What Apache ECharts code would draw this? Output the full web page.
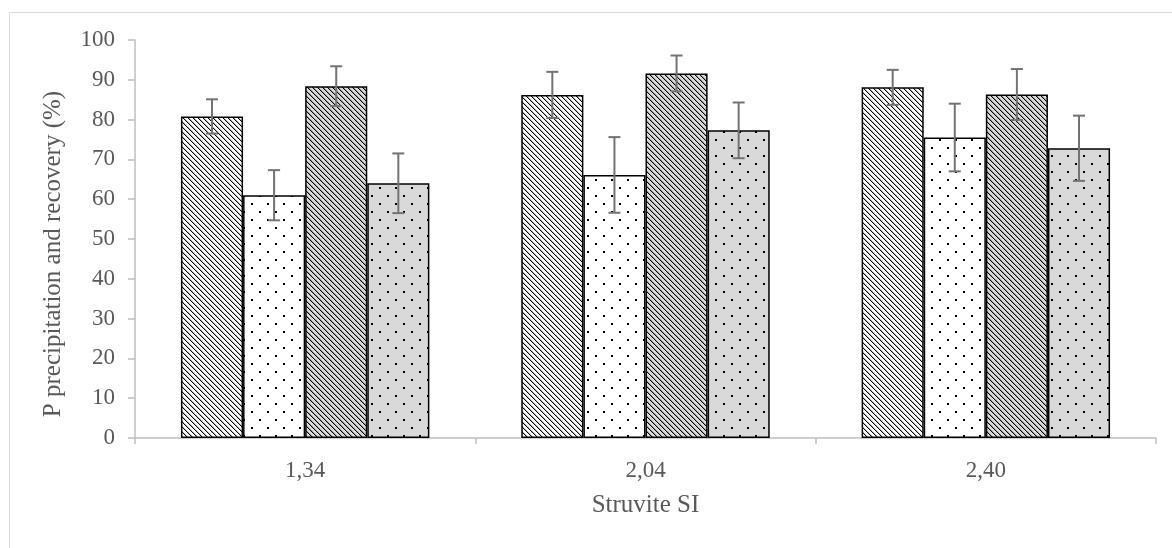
<!DOCTYPE html>
<html>
<head>
<meta charset="utf-8">
<script src="https://cdn.jsdelivr.net/npm/echarts@6/dist/echarts.min.js"></script>
<style>html,body{margin:0;padding:0;background:#fff;}#c{width:1172px;height:548px;}</style>
</head>
<body>
<div id="c"></div>
<script>
const categories = ['1,34', '2,04', '2,40'];
const s1 = [80.8, 86.2, 88.1];
const e1 = [4.3, 5.8, 4.4];
const s2 = [61.0, 66.1, 75.5];
const e2 = [6.3, 9.5, 8.5];
const s3 = [88.4, 91.6, 86.3];
const e3 = [5.0, 4.5, 6.4];
const s4 = [64.0, 77.3, 72.8];
const e4 = [7.5, 7.0, 8.2];
const seriesNames = ['Series 1', 'Series 2', 'Series 3', 'Series 4'];
const yTicks = [0, 10, 20, 30, 40, 50, 60, 70, 80, 90, 100];
const yTitle = 'P precipitation and recovery (%)';
const xTitle = 'Struvite SI';

function diagPattern(bg) {
  const n = 5;
  const c = document.createElement('canvas');
  c.width = n; c.height = n;
  const g = c.getContext('2d');
  g.fillStyle = bg; g.fillRect(0, 0, n, n);
  g.fillStyle = '#000';
  for (let y = 0; y < n; y++) {
    for (let x = 0; x < n; x++) {
      if (((x - y) % n + n) % n === 0) g.fillRect(x, y, 1, 1);
    }
  }
  g.fillStyle = 'rgba(0,0,0,0.3)';
  for (let y = 0; y < n; y++) {
    for (let x = 0; x < n; x++) {
      if (((x - y) % n + n) % n === 1) g.fillRect(x, y, 1, 1);
    }
  }
  return { image: c, repeat: 'repeat' };
}
function dotPattern(bg) {
  const c = document.createElement('canvas');
  c.width = 16; c.height = 16;
  const g = c.getContext('2d');
  g.fillStyle = bg; g.fillRect(0, 0, 16, 16);
  g.fillStyle = '#000';
  g.fillRect(3, 3, 2, 2);
  g.fillRect(11, 11, 2, 2);
  return { image: c, repeat: 'repeat' };
}

const fills = [diagPattern('#ffffff'), dotPattern('#ffffff'), diagPattern('#d9d9d9'), dotPattern('#d9d9d9')];
const values = [s1, s2, s3, s4];
const errors = [e1, e2, e3, e4];
const catGap = 0.27;

const series = values.map((v, i) => ({
  name: seriesNames[i],
  type: 'bar',
  data: v,
  barGap: '0%',
  barCategoryGap: (catGap * 100) + '%',
  itemStyle: { color: fills[i], borderColor: '#000', borderWidth: 1.5 },
  z: 2
}));

const errData = [];
values.forEach((v, si) => v.forEach((val, ci) => errData.push([ci, val, errors[si][ci], si])));

series.push({
  type: 'custom',
  name: 'error',
  data: errData,
  z: 5,
  renderItem: function (params, api) {
    const ci = api.value(0), val = api.value(1), err = api.value(2), si = api.value(3);
    const catW = api.size([1, 0])[0];
    const bw = catW * (1 - catGap) / 4;
    const cx = api.coord([ci, val])[0] + (si - 1.5) * bw;
    const top = api.coord([ci, val + err])[1];
    const bot = api.coord([ci, val - err])[1];
    const hw = 6;
    const st = { stroke: '#737373', lineWidth: 2 };
    return {
      type: 'group',
      children: [
        { type: 'line', shape: { x1: cx, y1: top, x2: cx, y2: bot }, style: st },
        { type: 'line', shape: { x1: cx - hw, y1: top, x2: cx + hw, y2: top }, style: st },
        { type: 'line', shape: { x1: cx - hw, y1: bot, x2: cx + hw, y2: bot }, style: st }
      ]
    };
  }
});

const font = 'Liberation Serif';
const chart = echarts.init(document.getElementById('c'), null, { renderer: 'canvas' });
chart.setOption({
  animation: false,
  backgroundColor: '#fff',
  graphic: [{
    type: 'rect', left: 7, top: 10, shape: { width: 1200, height: 600 },
    style: { fill: 'none', stroke: '#d9d9d9', lineWidth: 1 }, silent: true
  }, {
    type: 'text', x: 53, y: 254, rotation: Math.PI / 2,
    style: { text: yTitle, font: '25px "Liberation Serif"', fill: '#595959', align: 'center', verticalAlign: 'middle' },
    silent: true
  }],
  grid: { left: 135, right: 16, top: 40, bottom: 110, containLabel: false },
  xAxis: {
    type: 'category',
    data: categories,
    name: xTitle,
    nameLocation: 'middle',
    nameGap: 55,
    nameTextStyle: { fontFamily: font, fontSize: 25, color: '#595959' },
    axisLine: { lineStyle: { color: '#bfbfbf', width: 1.5 } },
    axisTick: { show: true, length: 6, lineStyle: { color: '#bfbfbf', width: 1.5 } },
    axisLabel: { fontFamily: font, fontSize: 23, color: '#595959', margin: 21 }
  },
  yAxis: {
    type: 'value',
    min: 0, max: 100, interval: 10,
    axisLine: { show: true, lineStyle: { color: '#bfbfbf', width: 1.5 } },
    axisTick: { show: true, length: 7, lineStyle: { color: '#bfbfbf', width: 1.5 } },
    splitLine: { show: false },
    axisLabel: {
      fontFamily: font, fontSize: 23, color: '#595959', margin: 20,
      formatter: function (v) { return yTicks.indexOf(v) >= 0 ? String(v) : ''; }
    }
  },
  series: series
});
</script>
</body>
</html>
